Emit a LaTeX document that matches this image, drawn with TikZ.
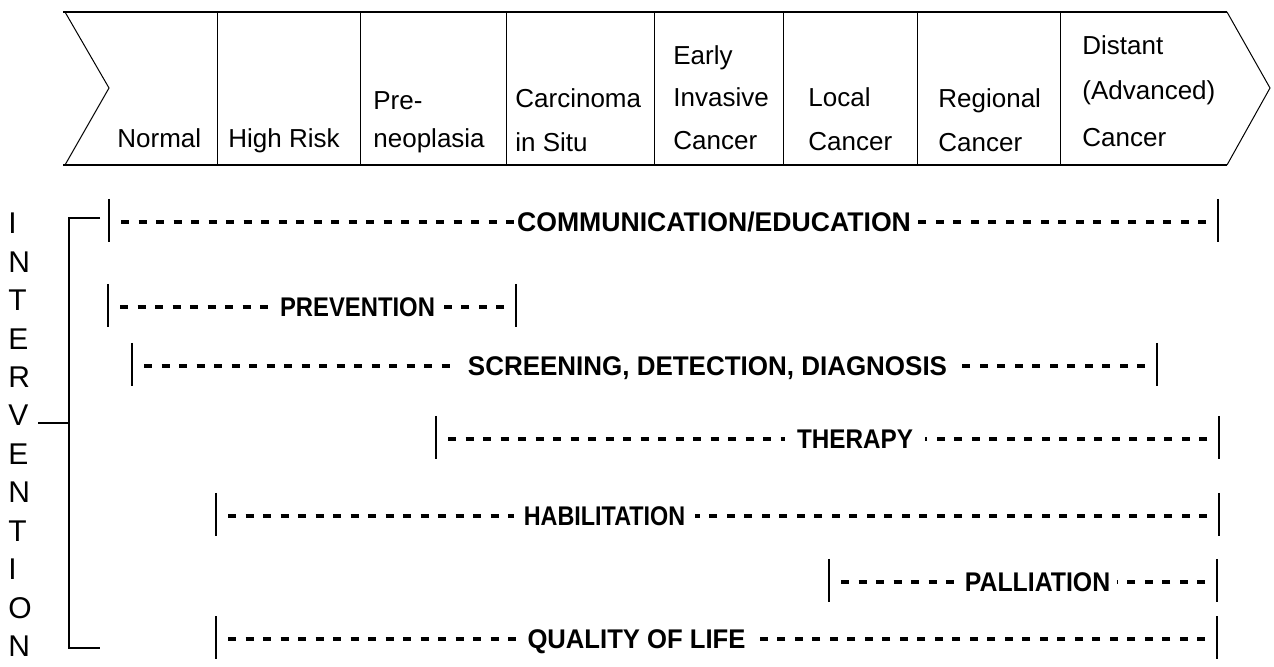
\documentclass[tikz,border=0pt]{standalone}
\usepackage{fontspec}
\setmainfont{Liberation Sans}

\begin{document}
\begin{tikzpicture}[x=0.5pt,y=-0.5pt,
	stage/.style={anchor=base west,inner sep=0pt,font=\fontsize{13}{15}\selectfont},
	letter/.style={anchor=base west,inner sep=0pt,font=\fontsize{15}{18}\selectfont},
	task/.style={inner ysep=0pt,text depth=0pt,font=\fontsize{13.5}{16}\selectfont\bfseries},
	tick/.style={line width=0.75pt},
	dots/.style={line width=1.6pt,dash pattern=on 4pt off 4.75pt,shorten <=6pt}]
	\useasboundingbox (0,0) rectangle (1274,667);

	% stage banner
	\draw[line width=1.3pt] (63,12) -- (1227,12);
	\draw[line width=1.3pt] (63,165) -- (1227,165);
	\draw[line width=0.5pt] (65,12) -- (109,88) -- (65,165);
	\draw[line width=0.5pt] (1227,12) -- (1270,88) -- (1227,165);
	\foreach \x in {217,360,506,654,783,917,1060}
		\draw[line width=0.5pt] (\x,12) -- (\x,165);

	\node[stage] at (117,148) (normal) {Normal};
	\node[stage] at (228,148) (highrisk) {High Risk};
	\node[stage] at (373,110) (pre1) {Pre-};
	\node[stage] at (373,148) (pre2) {neoplasia};
	\node[stage] at (515,108) (cis1) {Carcinoma};
	\node[stage] at (515,152) (cis2) {in Situ};
	\node[stage] at (673,65) (early1) {Early};
	\node[stage] at (673,107) (early2) {Invasive};
	\node[stage] at (673,150) (early3) {Cancer};
	\node[stage] at (808,107) (local1) {Local};
	\node[stage] at (808,151) (local2) {Cancer};
	\node[stage] at (938,108) (reg1) {Regional};
	\node[stage] at (938,152) (reg2) {Cancer};
	\node[stage] at (1082,55) (dist1) {Distant};
	\node[stage] at (1082,100) (dist2) {(Advanced)};
	\node[stage] at (1082,147) (dist3) {Cancer};

	% intervention bracket
	\foreach \c [count=\i from 0] in {I,N,T,E,R,V,E,N,T,I,O,N}
		\node[letter] at (8,{234+38.4*\i}) (l\i) {\c};
	\coordinate (btop) at (100,218);
	\coordinate (bbot) at (100,648);
	\coordinate (bmid) at (38,423);
	\draw[line width=0.7pt] (btop) -- (69,218) -- (69,648) -- (bbot);
	\draw[line width=0.7pt] (bmid) -- (69,423);

	% intervention rows
	\foreach \xa/\xb/\y/\xt/\sx/\gap/\nm/\txt in {
		109/1218/222/714/0.986/1.5/comm/{COMMUNICATION/EDUCATION},
		108/516/307/357.5/0.883/4.5/prev/{PREVENTION},
		132/1157/366/707.5/0.962/4.5/scr/{SCREENING, DETECTION, DIAGNOSIS},
		436/1219/439/855/0.899/6/ther/{THERAPY},
		216/1219/516/604.5/0.866/4.5/hab/{HABILITATION},
		829/1217/582/1037.5/0.92/3/pall/{PALLIATION},
		216/1217/639/636.5/0.95/4.5/qol/{QUALITY OF LIFE}}
	{
		\coordinate (\nm-l) at (\xa,\y);
		\coordinate (\nm-r) at (\xb,\y);
		\draw[tick] (\nm-l) ++(0,-23) -- ++(0,43);
		\draw[tick] (\nm-r) ++(0,-23) -- ++(0,43);
		\node[task,inner xsep=\gap pt] at (\xt,\y) (\nm) {\scalebox{\sx}[1]{\txt}};
		\draw[dots] (\nm-l) -- (\nm.west);
		\draw[dots] (\nm-r) -- (\nm.east);
	}
\end{tikzpicture}
\end{document}
